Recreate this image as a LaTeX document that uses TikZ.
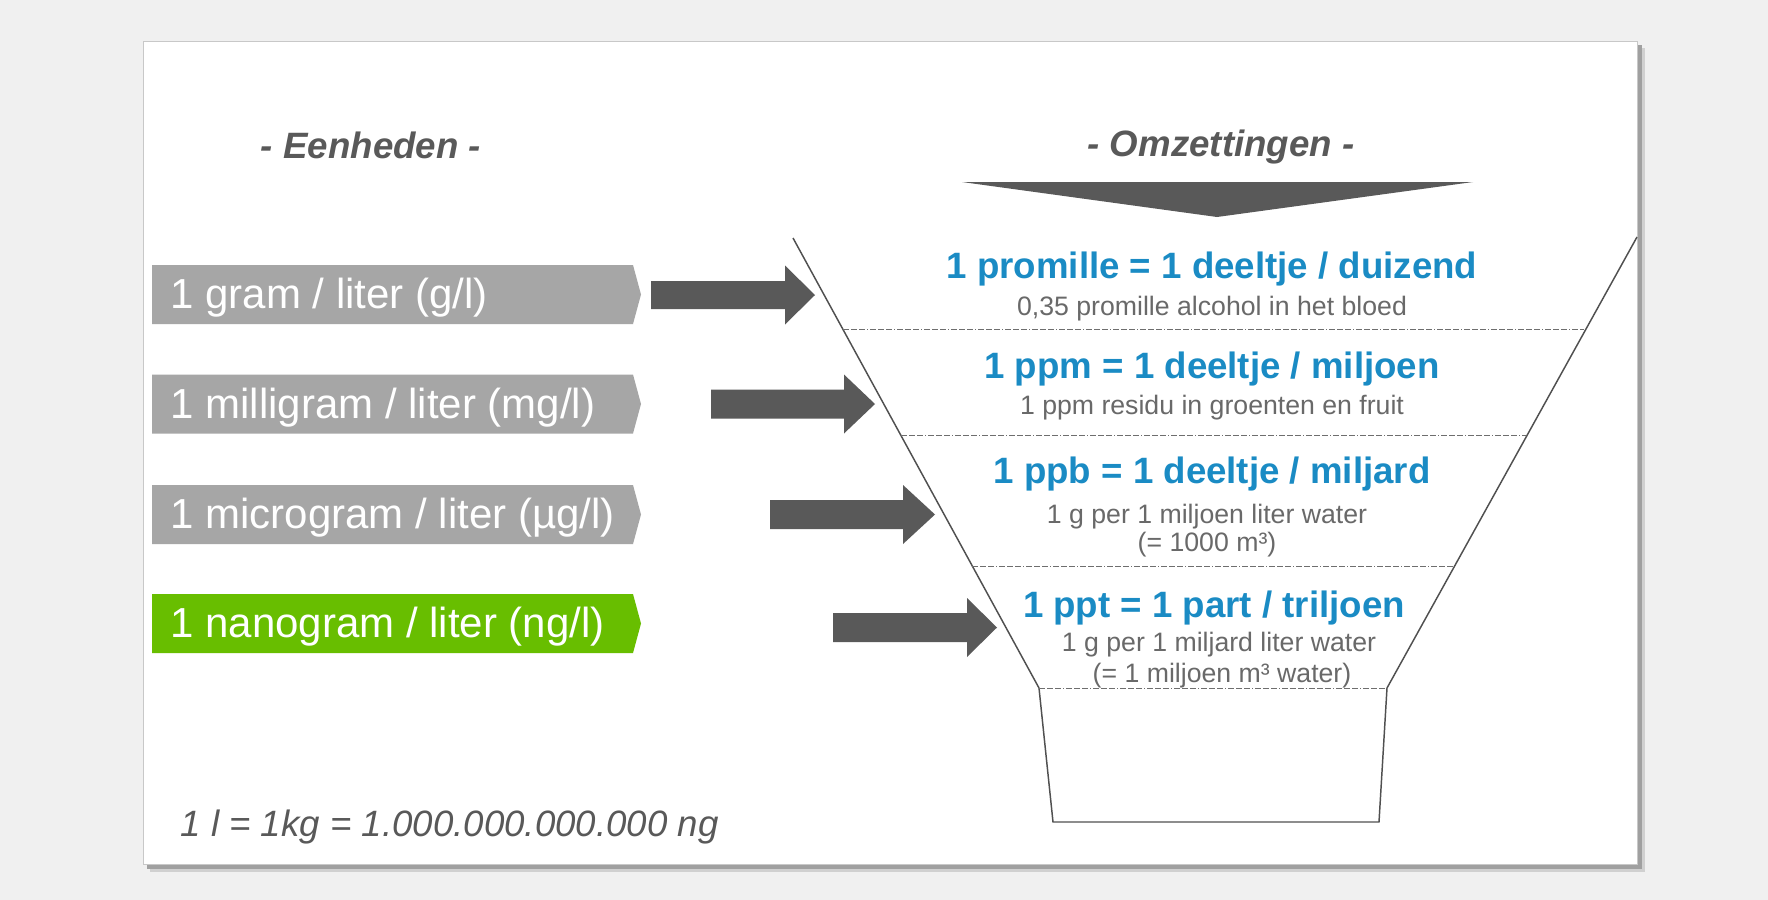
\documentclass[tikz,border=0pt]{standalone}
\usepackage{fontspec}
\setmainfont{Liberation Sans}

\definecolor{achtergrond}{RGB}{240,240,240}
\definecolor{schaduw}{RGB}{160,160,160}
\definecolor{schaduwlicht}{RGB}{208,208,208}
\definecolor{randgrijs}{RGB}{200,200,200}
\definecolor{donkergrijs}{RGB}{89,89,89}
\definecolor{vakgrijs}{RGB}{166,166,166}
\definecolor{vakgroen}{RGB}{104,190,0}
\definecolor{titelblauw}{RGB}{26,139,196}
\definecolor{subgrijs}{RGB}{105,105,105}
\definecolor{trechtergrijs}{RGB}{80,80,80}
\definecolor{streepgrijs}{RGB}{110,110,110}

\tikzset{every picture/.style={line width=0.75pt}}
\tikzset{
  eenheid/.style={anchor=base west, text=white, inner sep=0pt, font=\fontsize{31.5}{36}\selectfont},
  kop/.style={anchor=base, text=donkergrijs, inner sep=0pt, font=\bfseries\itshape\fontsize{27.5}{32}\selectfont},
  omztitel/.style={anchor=base, text=titelblauw, inner sep=0pt, font=\bfseries\fontsize{27.5}{32}\selectfont},
  omzsub/.style={anchor=base, text=subgrijs, inner sep=0pt, font=\fontsize{20}{24}\selectfont},
  scheiding/.style={draw=streepgrijs, line width=0.75pt, dash pattern=on 4.5pt off 1.5pt on 4.5pt off 1.5pt on 4.5pt off 1.5pt on 0.75pt off 1.5pt},
  trechter/.style={draw=trechtergrijs, line width=1.1pt},
  blokpijl/.style={fill=donkergrijs, draw=none},
}

\begin{document}
\begin{tikzpicture}[x=0.75pt,y=0.75pt,yscale=-1,xscale=1]
		\useasboundingbox (0,0) rectangle (1768,900);

		%Background
		\fill [achtergrond] (0,0) rectangle (1768,900);
		%Shape: Panel shadow
		\fill [schaduwlicht] (150,48) rectangle (1645,872);
		\fill [schaduw] (147,45) rectangle (1642,869);
		%Shape: Panel
		\draw [draw=randgrijs, fill=white] (143,41) rectangle (1637,864);

		%Shape: Unit boxes
		\draw [blokpijl, fill=vakgrijs] (152,265) -- (633,265) -- (641,294.5) -- (633,324) -- (152,324) -- cycle ;
		\draw [blokpijl, fill=vakgrijs] (152,374.5) -- (633,374.5) -- (641,404) -- (633,433.5) -- (152,433.5) -- cycle ;
		\draw [blokpijl, fill=vakgrijs] (152,485) -- (633,485) -- (641,514.5) -- (633,544) -- (152,544) -- cycle ;
		\draw [blokpijl, fill=vakgroen] (152,594) -- (633,594) -- (641,623.5) -- (633,653) -- (152,653) -- cycle ;

		%Shape: Right Arrow 1
		\draw [blokpijl] (651,281) -- (785,281) -- (785,265.5) -- (815,295) -- (785,324.5) -- (785,309) -- (651,309) -- cycle ;
		%Shape: Right Arrow 2
		\draw [blokpijl] (711,389.5) -- (844,389.5) -- (844,374.5) -- (875,404) -- (844,433.5) -- (844,418.5) -- (711,418.5) -- cycle ;
		%Shape: Right Arrow 3
		\draw [blokpijl] (770,500) -- (903,500) -- (903,485) -- (935,514.5) -- (903,544) -- (903,529) -- (770,529) -- cycle ;
		%Shape: Right Arrow 4
		\draw [blokpijl] (833,613) -- (967,613) -- (967,598) -- (997,627.5) -- (967,657) -- (967,642) -- (833,642) -- cycle ;

		%Shape: Down Triangle
		\draw [blokpijl] (962,182) -- (1473,182) -- (1217,217) -- cycle ;

		%Shape: Funnel
		\draw [trechter] (793,238) -- (1039,688) -- (1053,822) -- (1379,822) -- (1387,688) -- (1637,237) ;

		%Straight Lines: separators
		\draw [scheiding] (843,329) -- (1584,329) ;
		\draw [scheiding] (901,435) -- (1526,435) ;
		\draw [scheiding] (972,566) -- (1454,566) ;
		\draw [scheiding] (1039,688) -- (1387,688) ;

		% Text Node
		\draw (371,158) node [kop] (eenheden) {- Eenheden -};
		% Text Node
		\draw (1221,156) node [kop] (omzettingen) {- Omzettingen -};
		% Text Node
		\draw (170,308.5) node [eenheid] (gram) {1 gram / liter (g/l)};
		% Text Node
		\draw (170,418) node [eenheid] (milligram) {1 milligram / liter (mg/l)};
		% Text Node
		\draw (170,528.5) node [eenheid] (microgram) {1 microgram / liter (µg/l)};
		% Text Node
		\draw (170,637.5) node [eenheid] (nanogram) {1 nanogram / liter (ng/l)};
		% Text Node
		\draw (1212,278) node [omztitel] (promille) {1 promille = 1 deeltje / duizend};
		% Text Node
		\draw (1212,315) node [omzsub] (promillesub) {0,35 promille alcohol in het bloed};
		% Text Node
		\draw (1212,378) node [omztitel] (ppm) {1 ppm = 1 deeltje / miljoen};
		% Text Node
		\draw (1212,414) node [omzsub] (ppmsub) {1 ppm residu in groenten en fruit};
		% Text Node
		\draw (1212,483) node [omztitel] (ppb) {1 ppb = 1 deeltje / miljard};
		% Text Node
		\draw (1207,523) node [omzsub] (ppbsub) {1 g per 1 miljoen liter water};
		% Text Node
		\draw (1207,551) node [omzsub] (ppbsubb) {(= 1000 m³)};
		% Text Node
		\draw (1214,617) node [omztitel] (ppt) {1 ppt = 1 part / triljoen};
		% Text Node
		\draw (1219,651) node [omzsub] (pptsub) {1 g per 1 miljard liter water};
		% Text Node
		\draw (1222,682) node [omzsub] (pptsubb) {(= 1 miljoen m³ water)};
		% Text Node
		\draw (180,836) node [anchor=base west, inner sep=0pt, text=donkergrijs, font=\itshape\fontsize{27.5}{32}\selectfont] (formule) {1 l = 1kg = 1.000.000.000.000 ng};

\end{tikzpicture}
\end{document}
